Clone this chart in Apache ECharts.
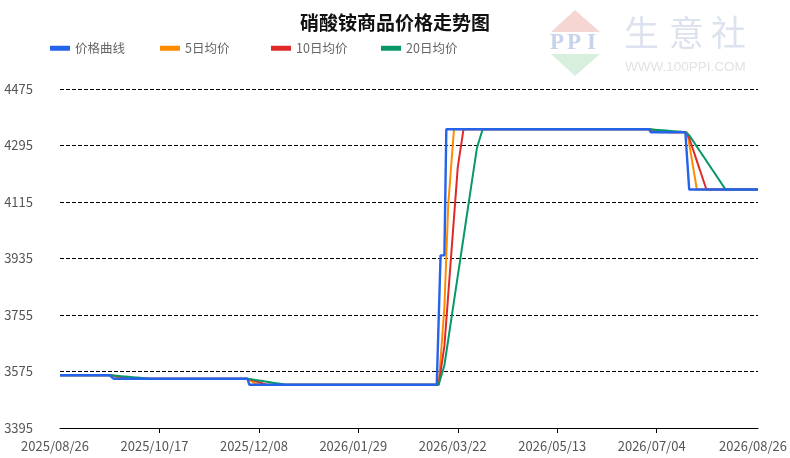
<!DOCTYPE html>
<html><head><meta charset="utf-8">
<script src="https://cdn.jsdelivr.net/npm/echarts@6/dist/echarts.min.js"></script>
<style>html,body{margin:0;padding:0;background:#fff}#c{width:790px;height:458px}</style>
</head><body><div id="c"></div>
<script>
// ---- data ----
const startDate = [2025, 8, 26];
const dayCount = 366;
// price change points (day index from start, price); price holds until next change
const priceChangeDays = [0, 28, 99, 199, 202, 309, 329];
const priceChangeValues = [3563, 3552, 3533, 3945, 4347, 4337, 4155];
const seriesNames = ['价格曲线', '5日均价', '10日均价', '20日均价'];
const maWindows = [5, 10, 20];
const xTickLabels = ['2025/08/26', '2025/10/17', '2025/12/08', '2026/01/29', '2026/03/22', '2026/05/13', '2026/07/04', '2026/08/26'];
const yTickLabels = [3395, 3575, 3755, 3935, 4115, 4295, 4475];
const colors = ['#2563eb', '#ff8c00', '#e02a2a', '#089868'];

// ---- build ----
function pad(n) { return n < 10 ? '0' + n : '' + n; }
const dates = [];
for (let i = 0; i < dayCount; i++) {
  const d = new Date(Date.UTC(startDate[0], startDate[1] - 1, startDate[2] + i));
  dates.push(d.getUTCFullYear() + '/' + pad(d.getUTCMonth() + 1) + '/' + pad(d.getUTCDate()));
}
const prices = [];
for (let i = 0; i < dayCount; i++) {
  let v = priceChangeValues[0];
  for (let k = 0; k < priceChangeDays.length; k++) if (priceChangeDays[k] <= i) v = priceChangeValues[k];
  prices.push(v);
}
function movingAverage(arr, n) {
  return arr.map((_, i) => {
    const s = Math.max(0, i - n + 1);
    let sum = 0;
    for (let j = s; j <= i; j++) sum += arr[j];
    return +(sum / (i - s + 1)).toFixed(2);
  });
}
const seriesData = [prices].concat(maWindows.map(n => movingAverage(prices, n)));

const legendLefts = [50, 160, 271, 381];
const font = '"Noto Sans CJK SC", "Noto Sans", sans-serif';

const chart = echarts.init(document.getElementById('c'), null, { renderer: 'canvas' });
chart.setOption({
  animation: false,
  backgroundColor: '#fff',
  title: {
    text: '硝酸铵商品价格走势图', left: 'center', top: 8,
    textStyle: { fontSize: 19, fontWeight: 'bold', color: '#111', fontFamily: font }
  },
  legend: seriesNames.map((n, i) => ({
    data: [n], left: legendLefts[i], top: 42, padding: 0, icon: 'rect', itemWidth: 20, itemHeight: 5,
    itemGap: 0, selectedMode: false,
    textStyle: { fontSize: 12.5, color: '#666', fontFamily: font }
  })),
  grid: { left: 60, right: 30, top: 89, bottom: 30 },
  xAxis: {
    type: 'category', data: dates, boundaryGap: false,
    axisLine: { lineStyle: { color: '#000', width: 1 } },
    axisTick: {
      length: 5, lineStyle: { color: '#000' },
      interval: (idx, val) => xTickLabels.indexOf(val) > 0 && idx < dayCount - 1
    },
    axisLabel: {
      interval: (idx, val) => xTickLabels.indexOf(val) >= 0,
      color: '#555', fontSize: 13, margin: 12, fontFamily: font,
      padding: [0, 10, 0, 0]
    },
    splitLine: { show: false }
  },
  yAxis: {
    type: 'value', min: yTickLabels[0], max: yTickLabels[yTickLabels.length - 1],
    interval: yTickLabels[1] - yTickLabels[0],
    axisLine: { show: false }, axisTick: { show: false },
    axisLabel: { color: '#555', fontSize: 13, margin: 27, fontFamily: font, formatter: v => String(v) },
    splitLine: { lineStyle: { color: '#000', type: [4, 2], width: 1 } }
  },
  series: seriesNames.map((n, i) => ({
    name: n, type: 'line', data: seriesData[i], symbol: 'none', showSymbol: false,
    color: colors[i],
    lineStyle: { color: colors[i], width: i === 0 ? 2.4 : 2 },
    z: i === 0 ? 10 : 2 + i
  })),
  graphic: [
    { type: 'polygon', shape: { points: [[551, 32], [575, 10], [600, 32]] }, style: { fill: '#f6d6d2' }, silent: true },
    { type: 'polygon', shape: { points: [[551, 54], [600, 54], [575, 76]] }, style: { fill: '#d9efdd' }, silent: true },
    { type: 'text', x: 550, y: 43.5, style: { text: 'P', fill: '#c6d3ea', font: 'bold 23px "Liberation Serif"', textVerticalAlign: 'middle' }, silent: true },
    { type: 'text', x: 567, y: 43.5, style: { text: 'P', fill: '#c6d3ea', font: 'bold 23px "Liberation Serif"', textVerticalAlign: 'middle' }, silent: true },
    { type: 'text', x: 587, y: 43.5, style: { text: 'I', fill: '#c6d3ea', font: 'bold 23px "Liberation Serif"', textVerticalAlign: 'middle' }, silent: true },
    { type: 'text', x: 624, y: 33, style: { text: '生', fill: '#dde3ee', font: '35px "Noto Sans CJK SC"', textVerticalAlign: 'middle' }, silent: true },
    { type: 'text', x: 669, y: 33, style: { text: '意', fill: '#dde3ee', font: '35px "Noto Sans CJK SC"', textVerticalAlign: 'middle' }, silent: true },
    { type: 'text', x: 711, y: 33, style: { text: '社', fill: '#dde3ee', font: '35px "Noto Sans CJK SC"', textVerticalAlign: 'middle' }, silent: true },
    { type: 'text', x: 625, y: 67, style: { text: 'WWW.100PPI.COM', fill: '#e2e2e2', font: '13.5px "Liberation Sans"', textVerticalAlign: 'middle' }, silent: true }
  ]
});
</script>
</body></html>
